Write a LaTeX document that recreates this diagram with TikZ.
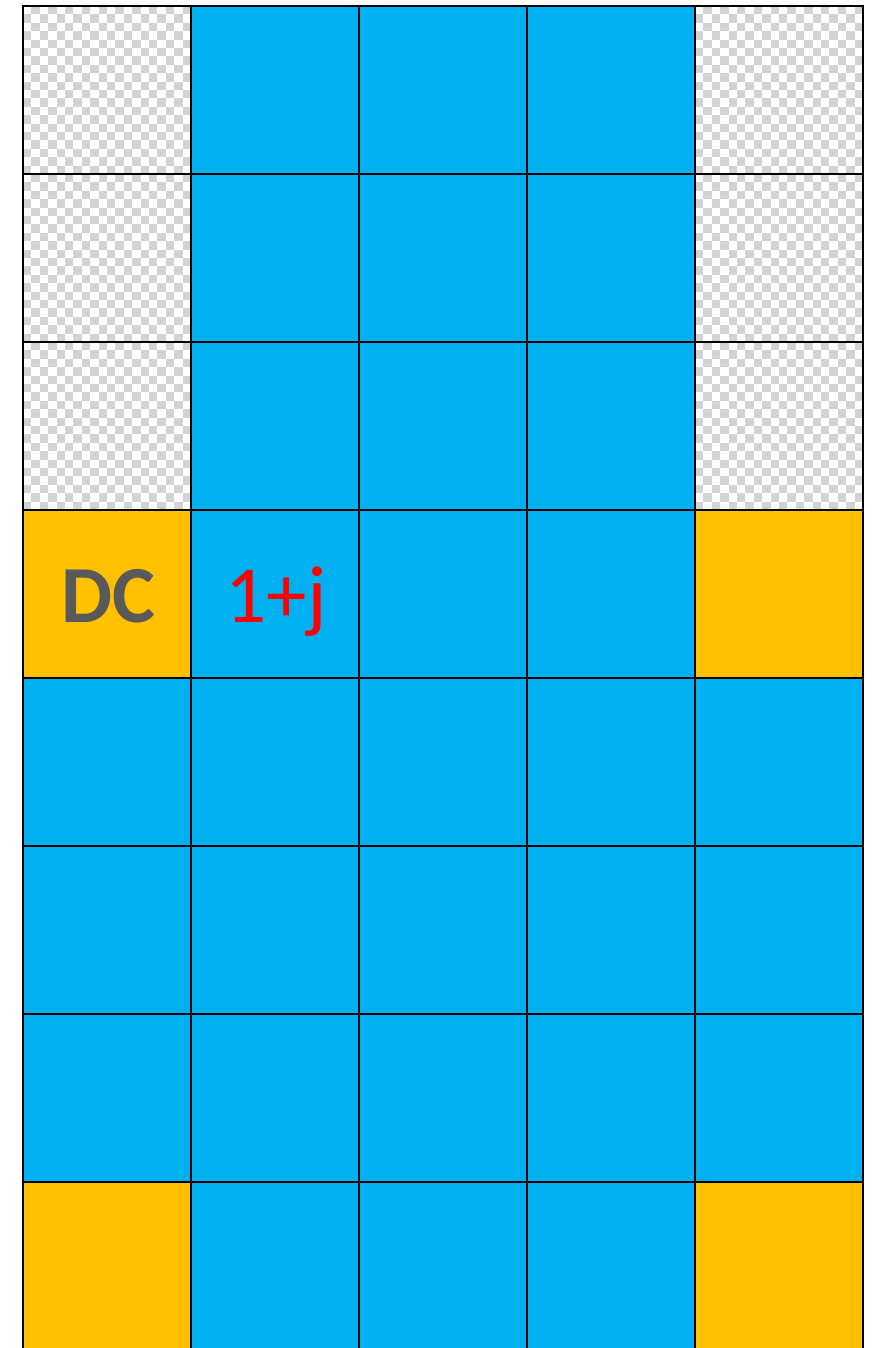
\documentclass[tikz,border=0pt]{standalone}
\usepackage{fontspec}
\setmainfont{Carlito}
\definecolor{cblue}{HTML}{00B0F0}
\definecolor{cgold}{HTML}{FFC000}
\definecolor{cgray}{HTML}{595959}
\definecolor{chk}{HTML}{D3D3D3}
\begin{document}
\begin{tikzpicture}[x=1pt,y=-1pt,
  cellbase/.style={draw=black, line width=2.6pt, minimum size=168pt, inner sep=0pt, outer sep=0pt, anchor=north west},
  cellt/.style={cellbase, fill=none},
  cellb/.style={cellbase, fill=cblue},
  cellg/.style={cellbase, fill=cgold},
  dctext/.style={anchor=base, text=cgray, font=\fontsize{81}{81}\selectfont\bfseries, inner sep=0pt},
  cxtext/.style={anchor=base, text=red, font=\fontsize{81}{81}\selectfont, inner sep=0pt}]
\useasboundingbox (0,0) rectangle (873,1348);
\fill[white] (0,0) rectangle (873,1348);
\clip (0,0) rectangle (873,1348);
% checkerboards of the transparent cells
\foreach \r in {0,1,2}{
  \foreach \c in {0,4}{
    \begin{scope}
      \clip (23+\c*168,6+\r*168) rectangle ++(168,168);
      \foreach \i in {0,...,19}{
        \foreach \j in {0,...,19}{
          \pgfmathtruncatemacro{\myodd}{mod(\i+\j,2)}
          \ifnum\myodd=1
            \fill[chk] (23+\c*168+\i*8.4,6+\r*168+\j*8.4) rectangle ++(8.4,8.4);
          \fi
        }
      }
    \end{scope}
  }
}
% cells
\foreach \r/\types in {0/{t,b,b,b,t},1/{t,b,b,b,t},2/{t,b,b,b,t},3/{g,b,b,b,g},4/{b,b,b,b,b},5/{b,b,b,b,b},6/{b,b,b,b,b},7/{g,b,b,b,g}}{
  \foreach \t [count=\k from 0] in \types {
    \node[cell\t] (c\r\k) at (23+\k*168,6+\r*168) {};
  }
}
\node[dctext] (dc) at (108,622) {DC};
\node[cxtext] (cx) at (276,622) {1+j};
\end{tikzpicture}
\end{document}
